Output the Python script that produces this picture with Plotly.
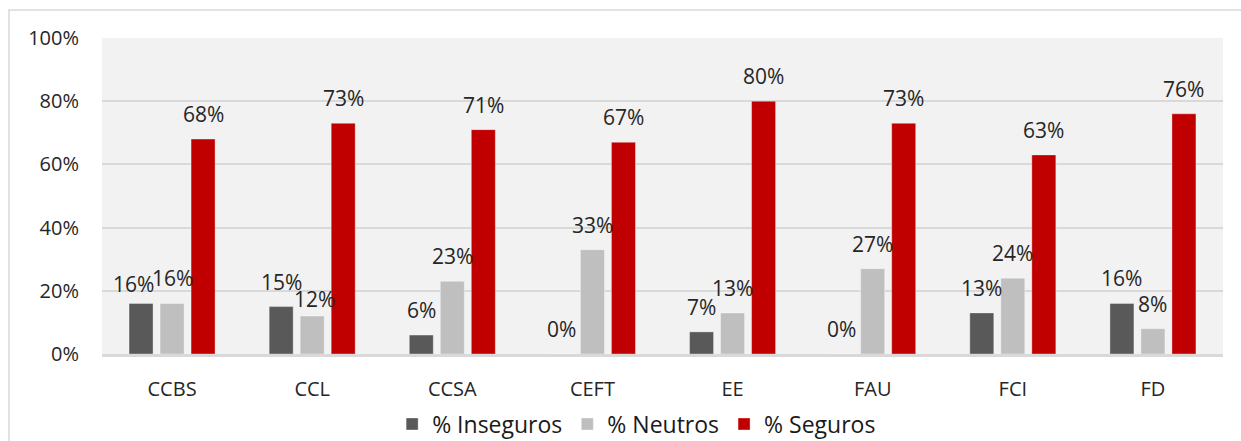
import plotly.graph_objects as go

# Survey results per academic centre (percent of respondents)
centros = ["CCBS", "CCL", "CCSA", "CEFT", "EE", "FAU", "FCI", "FD"]
inseguros = [16, 15, 6, 0, 7, 0, 13, 16]
neutros = [16, 12, 23, 33, 13, 27, 24, 8]
seguros = [68, 73, 71, 67, 80, 73, 63, 76]

series_names = ["% Inseguros", "% Neutros", "% Seguros"]
series_values = [inseguros, neutros, seguros]
series_colors = ["#595959", "#BFBFBF", "#C00000"]

FONT = "Open Sans"
TEXT_COLOR = "#262626"

fig = go.Figure()
for name, vals, color in zip(series_names, series_values, series_colors):
    fig.add_trace(go.Bar(
        x=centros, y=vals, name=name,
        marker=dict(color=color, line=dict(color="rgba(255,255,255,0.35)", width=1)),
        hoverinfo="x+y+name",
    ))

# Value labels above each bar; a couple are nudged so they don't collide
bar_offset_px = [-31, 0, 31]
nudges = {(0, 0): (-8, 19), (1, 1): (2, 17)}
for s_idx, vals in enumerate(series_values):
    for c_idx, v in enumerate(vals):
        dx, dy = nudges.get((c_idx, s_idx), (0, 25))
        fig.add_annotation(
            x=centros[c_idx], y=v, xref="x", yref="y",
            text=f"{v}%", showarrow=False,
            xshift=bar_offset_px[s_idx] + dx, yshift=dy,
            xanchor="center", yanchor="middle",
            font=dict(family=FONT, size=21, color=TEXT_COLOR),
        )

# Chart frame
fig.add_shape(
    type="rect", xref="paper", yref="paper",
    x0=-0.083, x1=1.3, y0=-0.6, y1=1.0886,
    line=dict(color="#D9D9D9", width=1.5), fillcolor="rgba(0,0,0,0)",
    layer="below",
)

fig.update_layout(
    width=1241, height=441,
    margin=dict(l=102, r=18, t=38, b=87, autoexpand=False),
    paper_bgcolor="white",
    plot_bgcolor="#F2F2F2",
    barmode="group",
    bargap=0.336,
    bargroupgap=0.226,
    font=dict(family=FONT, color=TEXT_COLOR),
    showlegend=True,
    legend=dict(
        orientation="h", xref="container", x=0.513, xanchor="center",
        yref="container", y=0.0385, yanchor="middle",
        font=dict(family=FONT, size=23, color="#1a1a1a"),
        itemwidth=30, bgcolor="rgba(0,0,0,0)",
    ),
    xaxis=dict(
        showgrid=False, showline=True, linecolor="#D9D9D9", linewidth=2.5,
        ticks="", ticklabelstandoff=15,
        tickfont=dict(family=FONT, size=20, color=TEXT_COLOR),
    ),
    yaxis=dict(
        range=[0, 100], dtick=20, ticksuffix="%",
        showgrid=True, gridcolor="#D9D9D9", gridwidth=1.5,
        zeroline=False, showline=False, ticks="", ticklabelstandoff=22,
        tickfont=dict(family=FONT, size=20, color=TEXT_COLOR),
    ),
)

fig.write_html("out.html")
